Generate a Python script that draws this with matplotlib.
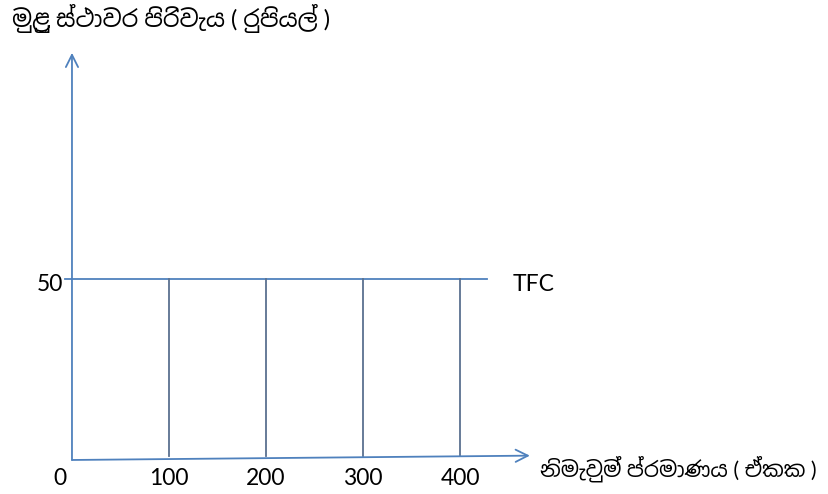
import matplotlib.pyplot as plt
from matplotlib import font_manager

# data
output_units = [100, 200, 300, 400]
tfc_value = 50
x_ticks = ['100', '200', '300', '400']
y_label = 'මුළු ස්ථාවර පිරිවැය ( රුපියල් )'
x_label = 'නිමැවුම් ප්රමාණය ( ඒකක )'
line_label = 'TFC'

# pick a font with Sinhala glyphs if one exists
families = ['Lato']
for f in font_manager.fontManager.ttflist:
    if 'sinhala' in f.name.lower() and f.name not in families:
        families.append(f.name)
families += ['Noto Sans', 'DejaVu Sans']
plt.rcParams['font.family'] = families

blue = '#4f81bd'
grey_blue = '#5b7190'

fig = plt.figure(figsize=(8.29, 4.94), dpi=100)
ax = fig.add_axes([0, 0, 1, 1])
ax.set_xlim(-74.2, 780.4)
ax.set_ylim(-9.4, 127.1)
ax.axis('off')

# axes with arrows
arrow = dict(arrowstyle='->', color=blue, lw=1.3, shrinkA=0, shrinkB=0,
             mutation_scale=22)
ax.annotate('', xy=(0, 112.5), xytext=(0, 0), arrowprops=arrow)
ax.annotate('', xy=(472, 1.2), xytext=(0, 0), arrowprops=arrow)

# TFC line
ax.plot([-7, 428], [tfc_value, tfc_value], color=blue, lw=1.3)
for x in output_units:
    ax.plot([x, x], [1.2, tfc_value], color=grey_blue, lw=1.3)

fs = 16.5
ax.text(-12, -5, '0', fontsize=fs, ha='center', va='center')
for x, t in zip(output_units, x_ticks):
    ax.text(x, -5, t, fontsize=fs, ha='center', va='center')
ax.text(-9, tfc_value - 1.5, str(tfc_value), fontsize=fs, ha='right', va='center')
ax.text(454, tfc_value - 1.5, line_label, fontsize=fs, ha='left', va='center')

ax.text(-62, 122, y_label, fontsize=17, ha='left', va='center')
ax.text(482, -2.5, x_label, fontsize=15.5, ha='left', va='center')

fig.savefig('out.png', dpi=100)
